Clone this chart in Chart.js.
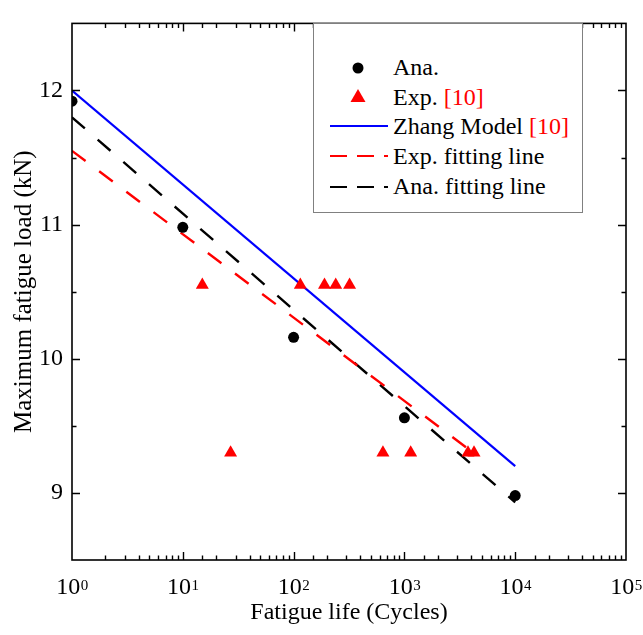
<!DOCTYPE html>
<html>
<head>
<meta charset="utf-8">
<script src="https://cdn.jsdelivr.net/npm/chart.js@4/dist/chart.umd.min.js"></script>
<style>
  body { margin: 0; background: #fff; }
  #wrap { position: relative; width: 643px; height: 635px; }
  #legendBox { position: absolute; left: 313px; top: 23px; width: 270px; height: 190px;
               box-sizing: border-box; border: 1px solid #808080; background: #fff; }
  #legendSym { position: absolute; left: 313px; top: 23px; }
  .lg { position: absolute; left: 393px; height: 30px; line-height: 30px; white-space: nowrap;
        font-family: 'Liberation Serif', Tinos, 'Times New Roman', Times, serif;
        font-size: 24px; color: #000; }
  .ref { color: #ff0000; }
</style>
</head>
<body>
<div id="wrap">
  <canvas id="fatigue" width="643" height="635"></canvas>
  <div id="legendBox"></div>
  <svg id="legendSym" width="270" height="190">
    <circle cx="45" cy="45" r="5.5" fill="#000"/>
    <polygon points="45,66 52.5,79 37.5,79" fill="#ff0000"/>
    <line x1="17" y1="103" x2="75" y2="103" stroke="#0000ff" stroke-width="2.2"/>
    <line x1="17" y1="133" x2="75" y2="133" stroke="#ff0000" stroke-width="2.2" stroke-dasharray="17 10"/>
    <line x1="17" y1="164" x2="75" y2="164" stroke="#000" stroke-width="2.2" stroke-dasharray="17 10"/>
  </svg>
  <div class="lg" style="top:52px">Ana.</div>
  <div class="lg" style="top:82px">Exp. <span class="ref">[10]</span></div>
  <div class="lg" style="top:111px">Zhang Model <span class="ref">[10]</span></div>
  <div class="lg" style="top:141px">Exp. fitting line</div>
  <div class="lg" style="top:171px">Ana. fitting line</div>
</div>
<script>
/* S-N style plot: max fatigue load vs. fatigue life (log x). */

const anaLife = [1, 10, 100, 1000, 10000];
const anaLoad = [11.92, 10.98, 10.16, 9.56, 8.98];

const expLife = [15, 115, 190, 240, 320, 27, 640, 1140, 3750, 4250];
const expLoad = [10.55, 10.55, 10.55, 10.55, 10.55, 9.3, 9.3, 9.3, 9.3, 9.3];

const zhangLife = [1, 10000];
const zhangLoad = [12.0, 9.2];

const expFitLife = [1, 4500];
const expFitLoad = [11.55, 9.28];

const anaFitLife = [1, 10000];
const anaFitLoad = [11.80, 8.93];

const lifeRange = [1, 100000];
const loadRange = [8.5, 12.5];

const SERIF = "'Liberation Serif', Tinos, 'Times New Roman', Times, serif";
const pts = (xs, ys) => xs.map((x, i) => ({ x, y: ys[i] }));

/* frame, inward ticks on all four sides, and 10^n labels */
const framePlugin = {
    id: 'frame',
    afterDatasetsDraw(chart) {
        const { ctx, chartArea: a, scales: { x, y } } = chart;
        ctx.save();
        ctx.strokeStyle = '#000';
        ctx.lineWidth = 1.6;
        ctx.strokeRect(a.left, a.top, a.right - a.left, a.bottom - a.top);

        ctx.lineWidth = 1.4;
        ctx.beginPath();
        x.ticks.forEach((t) => {
            const px = Math.round(x.getPixelForValue(t.value)) + 0.5;
            if (px <= a.left + 1 || px >= a.right - 1) return;
            const major = Math.abs(Math.log10(t.value) - Math.round(Math.log10(t.value))) < 1e-9;
            const len = major ? 8 : 4.5;
            ctx.moveTo(px, a.bottom); ctx.lineTo(px, a.bottom - len);
            ctx.moveTo(px, a.top); ctx.lineTo(px, a.top + len);
        });
        y.ticks.forEach((t) => {
            const py = Math.round(y.getPixelForValue(t.value)) + 0.5;
            if (py <= a.top + 1 || py >= a.bottom - 1) return;
            const len = Number.isInteger(t.value) ? 8 : 4.5;
            ctx.moveTo(a.left, py); ctx.lineTo(a.left + len, py);
            ctx.moveTo(a.right, py); ctx.lineTo(a.right - len, py);
        });
        ctx.stroke();

        ctx.fillStyle = '#000';
        ctx.textBaseline = 'alphabetic';
        ctx.textAlign = 'left';
        x.ticks.forEach((t) => {
            const e = Math.log10(t.value);
            if (Math.abs(e - Math.round(e)) > 1e-9) return;
            const px = x.getPixelForValue(t.value);
            const sup = String(Math.round(e));
            ctx.font = '24px ' + SERIF;
            const wb = ctx.measureText('10').width;
            ctx.font = '15px ' + SERIF;
            const ws = ctx.measureText(sup).width;
            const x0 = px - (wb + ws) / 2;
            ctx.font = '24px ' + SERIF;
            ctx.fillText('10', x0, a.bottom + 34);
            ctx.font = '15px ' + SERIF;
            ctx.fillText(sup, x0 + wb + 0.5, a.bottom + 30);
        });
        ctx.restore();
    },
};

new Chart(document.getElementById('fatigue'), {
    type: 'scatter',
    data: {
        datasets: [
            { label: 'Zhang Model', data: pts(zhangLife, zhangLoad), showLine: true,
              borderColor: '#0000ff', borderWidth: 2.2, pointRadius: 0, order: 3 },
            { label: 'Exp. fitting line', data: pts(expFitLife, expFitLoad), showLine: true,
              borderColor: '#ff0000', borderWidth: 2.4, borderDash: [17, 17], pointRadius: 0, order: 4 },
            { label: 'Ana. fitting line', data: pts(anaFitLife, anaFitLoad), showLine: true,
              borderColor: '#000', borderWidth: 2.4, borderDash: [17, 17], pointRadius: 0, order: 5 },
            { label: 'Exp.', data: pts(expLife, expLoad), pointStyle: 'triangle',
              pointRadius: 7.5, backgroundColor: '#ff0000', borderColor: '#ff0000', borderWidth: 0, order: 2 },
            { label: 'Ana.', data: pts(anaLife, anaLoad), pointStyle: 'circle',
              pointRadius: 5.5, backgroundColor: '#000', borderColor: '#000', borderWidth: 0, order: 1 },
        ],
    },
    options: {
        responsive: false,
        animation: false,
        layout: { padding: { top: 7, right: 17, left: 0, bottom: 0 } },
        plugins: { legend: { display: false }, tooltip: { enabled: false } },
        scales: {
            x: {
                type: 'logarithmic', min: lifeRange[0], max: lifeRange[1],
                grid: { display: false, drawTicks: false }, border: { display: false },
                ticks: { display: false, autoSkip: false },
                title: { display: true, text: 'Fatigue life (Cycles)', color: '#000',
                         font: { family: SERIF, size: 24 }, padding: { top: 0, bottom: 8 } },
                afterFit: (s) => { s.height = 75; },
            },
            y: {
                min: loadRange[0], max: loadRange[1],
                grid: { display: false, drawTicks: false }, border: { display: false },
                ticks: { stepSize: 0.5, autoSkip: false, padding: 9, color: '#000',
                         font: { family: SERIF, size: 24 },
                         callback: (v) => (Number.isInteger(v) ? v : '') },
                title: { display: true, text: 'Maximum fatigue load (kN)', color: '#000',
                         font: { family: SERIF, size: 25 }, padding: { top: 9, bottom: 0 } },
                afterFit: (s) => { s.width = 72; },
            },
        },
    },
    plugins: [framePlugin],
});
</script>
</body>
</html>
